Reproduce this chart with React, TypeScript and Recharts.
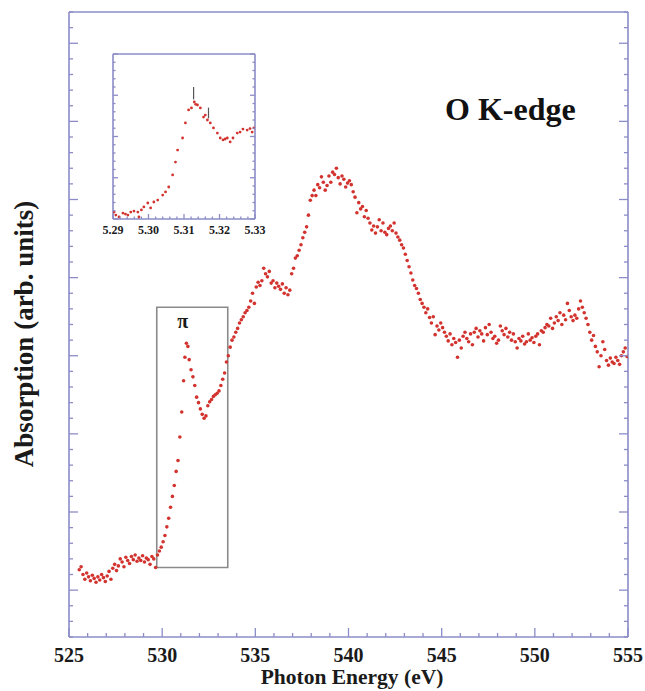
import React from 'react';
import { ScatterChart, Scatter, XAxis, YAxis, ReferenceArea, ReferenceLine } from 'recharts';

const AXIS = '#8c8cc8';
const DOT = '#d2332e';
const SERIF = '"Liberation Serif", "Times New Roman", serif';

// O K-edge scan: [photon energy (eV), absorption (arb.)]
const oKEdge: [number, number][] = [
  [525.55, 0.26], [525.65, 0.30], [525.75, 0.20], [525.85, 0.14], [525.95, 0.22], [526.05, 0.17],
  [526.15, 0.12], [526.25, 0.19], [526.35, 0.15], [526.45, 0.10], [526.55, 0.17], [526.65, 0.13],
  [526.75, 0.20], [526.85, 0.16], [526.95, 0.11], [527.05, 0.18], [527.15, 0.24], [527.25, 0.14],
  [527.35, 0.28], [527.45, 0.33], [527.55, 0.25], [527.65, 0.31], [527.75, 0.40], [527.85, 0.36],
  [527.95, 0.30], [528.05, 0.42], [528.15, 0.38], [528.25, 0.34], [528.35, 0.43], [528.45, 0.39],
  [528.55, 0.45], [528.65, 0.37], [528.75, 0.41], [528.85, 0.38], [528.95, 0.44], [529.05, 0.36],
  [529.15, 0.41], [529.25, 0.39], [529.35, 0.33], [529.45, 0.43], [529.55, 0.40], [529.65, 0.29],
  [529.75, 0.45], [529.85, 0.50], [529.95, 0.55], [530.05, 0.62], [530.15, 0.70], [530.25, 0.81],
  [530.35, 0.92], [530.45, 1.06], [530.55, 1.20], [530.65, 1.34], [530.75, 1.52], [530.85, 1.66],
  [530.95, 1.96], [531.05, 2.28], [531.15, 2.68], [531.22, 2.98], [531.30, 3.16], [531.38, 3.12],
  [531.45, 2.95], [531.55, 2.82], [531.65, 2.73], [531.75, 2.62], [531.85, 2.47], [531.95, 2.40],
  [532.05, 2.32], [532.15, 2.25], [532.25, 2.20], [532.35, 2.23], [532.45, 2.36], [532.55, 2.41],
  [532.65, 2.44], [532.75, 2.48], [532.85, 2.50], [532.95, 2.52], [533.05, 2.55], [533.15, 2.62],
  [533.25, 2.70], [533.35, 2.78], [533.45, 2.92], [533.55, 3.00], [533.65, 3.11], [533.75, 3.20],
  [533.85, 3.24], [533.95, 3.30], [534.05, 3.35], [534.15, 3.42], [534.25, 3.46], [534.35, 3.50],
  [534.45, 3.55], [534.55, 3.58], [534.65, 3.62], [534.75, 3.70], [534.85, 3.80], [534.95, 3.67],
  [535.05, 3.88], [535.15, 3.94], [535.25, 3.90], [535.35, 3.96], [535.45, 4.12], [535.55, 4.05],
  [535.65, 4.01], [535.75, 4.08], [535.85, 3.93], [535.95, 3.96], [536.05, 3.87], [536.15, 3.93],
  [536.25, 3.89], [536.35, 3.85], [536.45, 3.92], [536.55, 3.80], [536.65, 3.87], [536.75, 3.78],
  [536.85, 3.84], [536.95, 4.05], [537.05, 4.12], [537.15, 4.25], [537.25, 4.28], [537.35, 4.35],
  [537.45, 4.42], [537.55, 4.51], [537.65, 4.58], [537.75, 4.65], [537.85, 4.80], [537.95, 4.99],
  [538.05, 5.05], [538.15, 5.12], [538.25, 5.05], [538.35, 5.19], [538.45, 5.15], [538.55, 5.29],
  [538.65, 5.22], [538.75, 5.12], [538.85, 5.18], [538.95, 5.30], [539.05, 5.22], [539.15, 5.35],
  [539.25, 5.32], [539.35, 5.40], [539.45, 5.28], [539.55, 5.20], [539.65, 5.30], [539.75, 5.26],
  [539.85, 5.16], [539.95, 5.21], [540.05, 5.24], [540.15, 5.19], [540.25, 5.10], [540.35, 5.03],
  [540.45, 4.83], [540.55, 4.96], [540.65, 4.88], [540.75, 4.91], [540.85, 4.78], [540.95, 4.86],
  [541.05, 4.76], [541.15, 4.70], [541.25, 4.61], [541.35, 4.66], [541.45, 4.57], [541.55, 4.65],
  [541.65, 4.74], [541.75, 4.60], [541.85, 4.70], [541.95, 4.58], [542.05, 4.55], [542.15, 4.63],
  [542.25, 4.66], [542.35, 4.60], [542.45, 4.70], [542.55, 4.57], [542.65, 4.52], [542.75, 4.48],
  [542.85, 4.42], [542.95, 4.38], [543.05, 4.30], [543.15, 4.22], [543.25, 4.14], [543.35, 4.06],
  [543.45, 3.97], [543.55, 3.90], [543.65, 3.86], [543.75, 3.80], [543.85, 3.72], [543.95, 3.67],
  [544.05, 3.62], [544.15, 3.55], [544.25, 3.60], [544.35, 3.49], [544.45, 3.42], [544.55, 3.50],
  [544.65, 3.27], [544.75, 3.38], [544.85, 3.33], [544.95, 3.42], [545.05, 3.36], [545.15, 3.30],
  [545.25, 3.25], [545.35, 3.19], [545.45, 3.28], [545.55, 3.14], [545.65, 3.22], [545.75, 3.17],
  [545.85, 2.98], [545.95, 3.20], [546.05, 3.10], [546.15, 3.25], [546.25, 3.30], [546.35, 3.22],
  [546.45, 3.18], [546.55, 3.28], [546.65, 3.14], [546.75, 3.30], [546.85, 3.35], [546.95, 3.24],
  [547.05, 3.32], [547.15, 3.28], [547.25, 3.19], [547.35, 3.36], [547.45, 3.27], [547.55, 3.40],
  [547.65, 3.30], [547.75, 3.22], [547.85, 3.25], [547.95, 3.16], [548.05, 3.20], [548.15, 3.38],
  [548.25, 3.32], [548.35, 3.27], [548.45, 3.35], [548.55, 3.24], [548.65, 3.30], [548.75, 3.20],
  [548.85, 3.28], [548.95, 3.18], [549.05, 3.10], [549.15, 3.22], [549.25, 3.19], [549.35, 3.25],
  [549.45, 3.15], [549.55, 3.18], [549.65, 3.28], [549.75, 3.20], [549.85, 3.23], [549.95, 3.17],
  [550.05, 3.25], [550.15, 3.28], [550.25, 3.14], [550.35, 3.32], [550.45, 3.30], [550.55, 3.36],
  [550.65, 3.40], [550.75, 3.38], [550.85, 3.48], [550.95, 3.35], [551.05, 3.42], [551.15, 3.50],
  [551.25, 3.45], [551.35, 3.55], [551.45, 3.40], [551.55, 3.52], [551.65, 3.46], [551.75, 3.67],
  [551.85, 3.58], [551.95, 3.50], [552.05, 3.45], [552.15, 3.52], [552.25, 3.48], [552.35, 3.60],
  [552.45, 3.70], [552.55, 3.62], [552.65, 3.55], [552.75, 3.48], [552.85, 3.40], [552.95, 3.30],
  [553.05, 3.20], [553.15, 3.26], [553.25, 3.12], [553.35, 3.05], [553.45, 2.86], [553.55, 3.00],
  [553.65, 3.18], [553.75, 3.08], [553.85, 2.94], [553.95, 2.88], [554.05, 2.97], [554.15, 2.92],
  [554.25, 2.90], [554.35, 2.98], [554.45, 2.94], [554.55, 2.89], [554.65, 3.00], [554.75, 3.05],
  [554.85, 3.10], [554.95, 2.99],
];

// inset: zoom on the pi* peak
const insetScan: [number, number][] = [
  [529.03, 0.42], [529.08, 0.24], [529.17, 0.12], [529.28, 0.36], [529.35, 0.30], [529.42, 0.24],
  [529.50, 0.42], [529.59, 0.48], [529.70, 0.42], [529.73, 0.12], [529.80, 0.55], [529.87, 0.73],
  [529.98, 0.97], [530.06, 0.67], [530.15, 1.03], [530.26, 1.15], [530.40, 1.45], [530.48, 1.64],
  [530.57, 1.94], [530.68, 2.67], [530.76, 3.45], [530.82, 4.18], [530.96, 4.91], [531.04, 5.82],
  [531.13, 6.61], [531.21, 6.73], [531.29, 7.09], [531.33, 6.95], [531.38, 6.91], [531.46, 6.73],
  [531.55, 6.18], [531.60, 6.30], [531.66, 6.00], [531.74, 5.82], [531.83, 5.52], [531.94, 5.21],
  [532.02, 4.91], [532.10, 4.79], [532.16, 4.85], [532.22, 4.91], [532.30, 4.67], [532.38, 4.91],
  [532.50, 5.21], [532.58, 5.27], [532.66, 5.45], [532.78, 5.39], [532.86, 5.48], [532.92, 5.27],
  [532.97, 5.52],
];

// small vertical markers in the inset: [energy, from, to]
const insetMarks: [number, number, number][] = [
  [531.27, 7.25, 8.0],
  [531.69, 6.1, 6.75],
];

// pi* box on the main plot: energy range and absorption range
const piBox = { e1: 529.71, e2: 533.52, a1: 0.29, a2: 3.62 };

const xTicks = [
  525, 526, 527, 528, 529, 530, 531, 532, 533, 534, 535, 536, 537, 538, 539, 540,
  541, 542, 543, 544, 545, 546, 547, 548, 549, 550, 551, 552, 553, 554, 555,
];
const xLabels = [525, 530, 535, 540, 545, 550, 555];
const yTicks = [
  -0.6, -0.4, -0.2, 0, 0.2, 0.4, 0.6, 0.8, 1, 1.2, 1.4, 1.6, 1.8, 2, 2.2, 2.4, 2.6, 2.8, 3, 3.2,
  3.4, 3.6, 3.8, 4, 4.2, 4.4, 4.6, 4.8, 5, 5.2, 5.4, 5.6, 5.8, 6, 6.2, 6.4, 6.6, 6.8, 7, 7.2, 7.4,
];
const insetXTicks = [
  529, 529.2, 529.4, 529.6, 529.8, 530, 530.2, 530.4, 530.6, 530.8, 531,
  531.2, 531.4, 531.6, 531.8, 532, 532.2, 532.4, 532.6, 532.8, 533,
];
const insetXLabels = ['5.29', '5.30', '5.31', '5.32', '5.33'];
const insetYTicks = [0, 0.5, 1, 1.5, 2, 2.5, 3, 3.5, 4, 4.5, 5, 5.5, 6, 6.5, 7, 7.5, 8, 8.5, 9, 9.5, 10];

const mainData = oKEdge.map(([e, a]) => ({ e, a }));
const insetData = insetScan.map(([e, a]) => ({ e, a }));

const onStep = (v: number, step: number) => Math.abs(v / step - Math.round(v / step)) < 1e-6;

type Side = 'top' | 'bottom' | 'left' | 'right';

// ticks point inward from the frame, majors longer
const frameTick = (
  side: Side, step: number, big: number, small: number,
  label?: (v: number) => string | null, fontSize = 20, gap = 25,
) => (props: any) => {
  const { x, y, payload } = props;
  const v = payload.value;
  const len = onStep(v, step) ? big : small;
  let x2 = x;
  let y2 = y;
  if (side === 'bottom') y2 = y - len;
  else if (side === 'top') y2 = y + len;
  else if (side === 'left') x2 = x + len;
  else x2 = x - len;
  const txt = label ? label(v) : null;
  return (
    <g>
      <line x1={x} y1={y} x2={x2} y2={y2} stroke={AXIS} strokeWidth={1.3} />
      {txt && (
        <text x={x} y={y + gap} textAnchor="middle" fontSize={fontSize} fontWeight="bold"
          fontFamily={SERIF} fill="#1a1a1a">{txt}</text>
      )}
    </g>
  );
};

const dot = (r: number) => (props: any) => (
  <circle cx={props.cx} cy={props.cy} r={r} fill={DOT} />
);

const mainLabel = (v: number) => (xLabels.some((l) => Math.abs(l - v) < 1e-6) ? String(v) : null);
const insetLabel = (v: number) => {
  const i = Math.round(v - 529);
  return onStep(v, 1) ? insetXLabels[i] : null;
};

const axisLine = { stroke: AXIS, strokeWidth: 1.6 };

function InsetChart() {
  return (
    <ScatterChart width={170} height={200} margin={{ top: 7, right: 14, left: 12, bottom: 0 }}>
      <XAxis xAxisId="b" dataKey="e" type="number" domain={[529, 533]} ticks={insetXTicks}
        allowDataOverflow interval={0} height={27} tickSize={0} tickMargin={0} tickLine={false}
        axisLine={axisLine} tick={frameTick('bottom', 1, 5, 2.5, insetLabel, 12, 15)} />
      <XAxis xAxisId="t" orientation="top" type="number" domain={[529, 533]} ticks={insetXTicks}
        allowDataOverflow interval={0} height={1} tickSize={0} tickMargin={0} tickLine={false}
        axisLine={axisLine} tick={frameTick('top', 1, 5, 2.5)} />
      <YAxis yAxisId="l" dataKey="a" type="number" domain={[0, 10]} ticks={insetYTicks}
        allowDataOverflow interval={0} width={1} tickSize={0} tickMargin={0} tickLine={false}
        axisLine={axisLine} tick={frameTick('left', 2.5, 5, 2.5)} />
      <YAxis yAxisId="r" orientation="right" type="number" domain={[0, 10]} ticks={insetYTicks}
        allowDataOverflow interval={0} width={1} tickSize={0} tickMargin={0} tickLine={false}
        axisLine={axisLine} tick={frameTick('right', 2.5, 5, 2.5)} />
      {insetMarks.map(([e, a1, a2]) => (
        <ReferenceLine key={e} xAxisId="b" yAxisId="l" segment={[{ x: e, y: a1 }, { x: e, y: a2 }]}
          stroke="#555" strokeWidth={1.2} />
      ))}
      <Scatter xAxisId="b" yAxisId="l" data={insetData} shape={dot(1.4)} isAnimationActive={false} />
    </ScatterChart>
  );
}

export default function App() {
  return (
    <div style={{ position: 'absolute', left: 0, top: 0, width: 645, height: 691, background: '#fff' }}>
      <ScatterChart width={645} height={691} margin={{ top: 11, right: 16, left: 0, bottom: 0 }}>
        <XAxis xAxisId="b" dataKey="e" type="number" domain={[525, 555]} ticks={xTicks}
          allowDataOverflow interval={0} height={54} tickSize={0} tickMargin={0} tickLine={false}
          axisLine={axisLine} tick={frameTick('bottom', 5, 9, 4, mainLabel, 20, 25)} />
        <XAxis xAxisId="t" orientation="top" type="number" domain={[525, 555]} ticks={xTicks}
          allowDataOverflow interval={0} height={1} tickSize={0} tickMargin={0} tickLine={false}
          axisLine={axisLine} tick={frameTick('top', 5, 9, 4)} />
        <YAxis yAxisId="l" dataKey="a" type="number" domain={[-0.6, 7.4]} ticks={yTicks}
          allowDataOverflow interval={0} width={69} tickSize={0} tickMargin={0} tickLine={false}
          axisLine={axisLine} tick={frameTick('left', 1, 9, 4)} />
        <YAxis yAxisId="r" orientation="right" type="number" domain={[-0.6, 7.4]} ticks={yTicks}
          allowDataOverflow interval={0} width={1} tickSize={0} tickMargin={0} tickLine={false}
          axisLine={axisLine} tick={frameTick('right', 1, 9, 4)} />
        <ReferenceArea xAxisId="b" yAxisId="l" x1={piBox.e1} x2={piBox.e2} y1={piBox.a1} y2={piBox.a2}
          fill="none" fillOpacity={0} stroke="#8a8a8a" strokeWidth={1.6}
          label={(p: any) => (
            <text x={p.viewBox.x + 26} y={p.viewBox.y + 21} textAnchor="middle" fontSize={20}
              fontWeight="bold" fontFamily={SERIF} fill="#1a1a1a">π</text>
          )} />
        <Scatter xAxisId="b" yAxisId="l" data={mainData} shape={dot(1.8)} isAnimationActive={false} />
      </ScatterChart>

      <div style={{ position: 'absolute', left: 100, top: 46 }}>
        <InsetChart />
      </div>

      <svg width={645} height={691} style={{ position: 'absolute', left: 0, top: 0, pointerEvents: 'none' }}>
        <text x={445} y={120} fontSize={32} fontWeight="bold" fontFamily={SERIF} fill="#111">O K-edge</text>
        <text x={352} y={684} textAnchor="middle" fontSize={21.5} fontWeight="bold" fontFamily={SERIF}
          fill="#1a1a1a">Photon Energy (eV)</text>
        <text transform="translate(33,334) rotate(-90)" textAnchor="middle" fontSize={27} fontWeight="bold"
          fontFamily={SERIF} fill="#1a1a1a">Absorption (arb. units)</text>
      </svg>
    </div>
  );
}
